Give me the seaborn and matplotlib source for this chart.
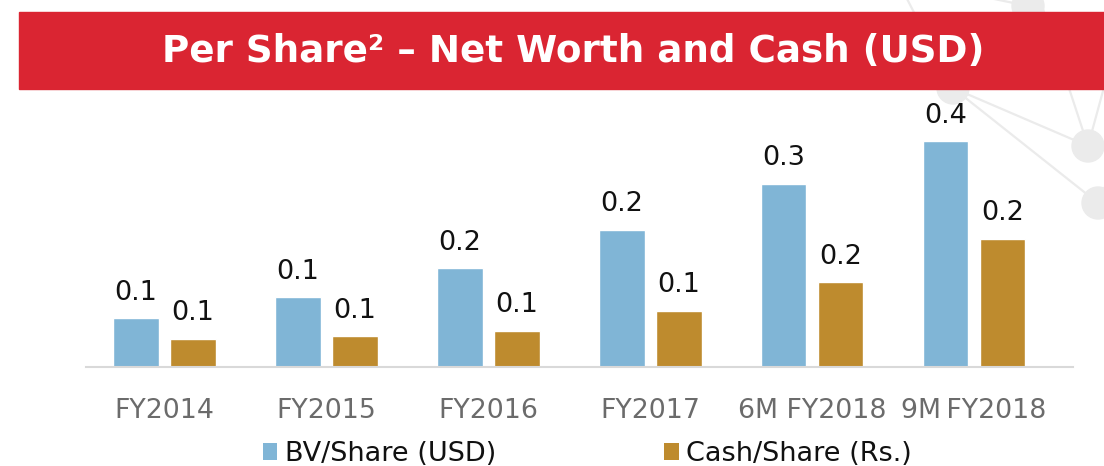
import matplotlib
matplotlib.use("Agg")
import matplotlib.pyplot as plt
from matplotlib.patches import Rectangle, Circle, Patch
import pandas as pd
import seaborn as sns

# Per-share figures by period
periods = ["FY2014", "FY2015", "FY2016", "FY2017", "6M FY2018", "9M\u2009FY2018"]
bv_per_share = [0.088, 0.126, 0.178, 0.247, 0.330, 0.407]
cash_per_share = [0.051, 0.055, 0.065, 0.101, 0.153, 0.231]
series_names = ["BV/Share (USD)", "Cash/Share (Rs.)"]
series_colors = ["#80B5D6", "#BE8B2E"]
title = "Per Share\u00b2 \u2013 Net Worth and Cash (USD)"

df = pd.DataFrame({
    "period": periods * 2,
    "value": bv_per_share + cash_per_share,
    "series": [series_names[0]] * len(periods) + [series_names[1]] * len(periods),
})

sns.set_theme(style="white")
plt.rcParams["font.family"] = ["DejaVu Sans"]

W, H = 1104, 466
fig = plt.figure(figsize=(W / 100, H / 100), dpi=100)
fig.patch.set_facecolor("white")

# Background layer in pixel coordinates: network ornament and title banner
bg = fig.add_axes([0, 0, 1, 1], zorder=0)
bg.set_xlim(0, W)
bg.set_ylim(H, 0)
bg.axis("off")
net_color = "#EBEBEB"
nodes = {"A": (953, 88), "B": (1088, 146), "C": (1098, 203), "D": (1028, 6)}
edges = [((953, 88), (1088, 146)), ((953, 88), (1098, 203)),
         ((1088, 146), (1106, 80)), ((1088, 146), (1040, 0)),
         ((953, 88), (905, -5)), ((1028, 6), (975, -5)),
         ((1028, 6), (1045, -5)), ((1098, 203), (1110, 175))]
for (x0, y0), (x1, y1) in edges:
    bg.plot([x0, x1], [y0, y1], color=net_color, lw=1.6, zorder=1)
for (cx, cy) in nodes.values():
    bg.add_patch(Circle((cx, cy), 16, color=net_color, zorder=2))
bg.add_patch(Rectangle((19, 12), W - 19, 77, color="#DA2532", zorder=3))
bg.text(573, 51, title, color="white", fontsize=26.8, fontweight="bold",
        ha="center", va="center", zorder=4)

# Bar chart
ax = fig.add_axes([86 / W, 1 - 367 / H, (1073 - 86) / W, 267 / H], zorder=2)
ax.patch.set_alpha(0)
sns.barplot(data=df, x="period", y="value", hue="series", order=periods,
            hue_order=series_names, palette=series_colors, width=0.704,
            gap=0.2, saturation=1, ax=ax, legend=False)
ax.set_xlim(-0.485, 5.611)
ax.set_ylim(0, 0.481)
for cont in ax.containers:
    ax.bar_label(cont, fmt="{:.1f}", padding=9, fontsize=19.5, color="#111111")
ax.set_xlabel("")
ax.set_ylabel("")
ax.set_yticks([])
for s in ["top", "right", "left"]:
    ax.spines[s].set_visible(False)
ax.spines["bottom"].set_color("#D9D9D9")
ax.spines["bottom"].set_linewidth(1.5)
ax.tick_params(axis="x", length=0, pad=22, labelsize=19.3, labelcolor="#6B6B6B")

handles = [Patch(facecolor=c, edgecolor="none") for c in series_colors]
fig.legend(handles, series_names, loc="center", bbox_to_anchor=(587 / W, 12 / H),
           ncol=2, frameon=False, fontsize=19.5, handlelength=0.55,
           handleheight=0.55, handletextpad=0.26, columnspacing=6.2,
           labelcolor="#111111")

fig.savefig("out.png", dpi=100)
